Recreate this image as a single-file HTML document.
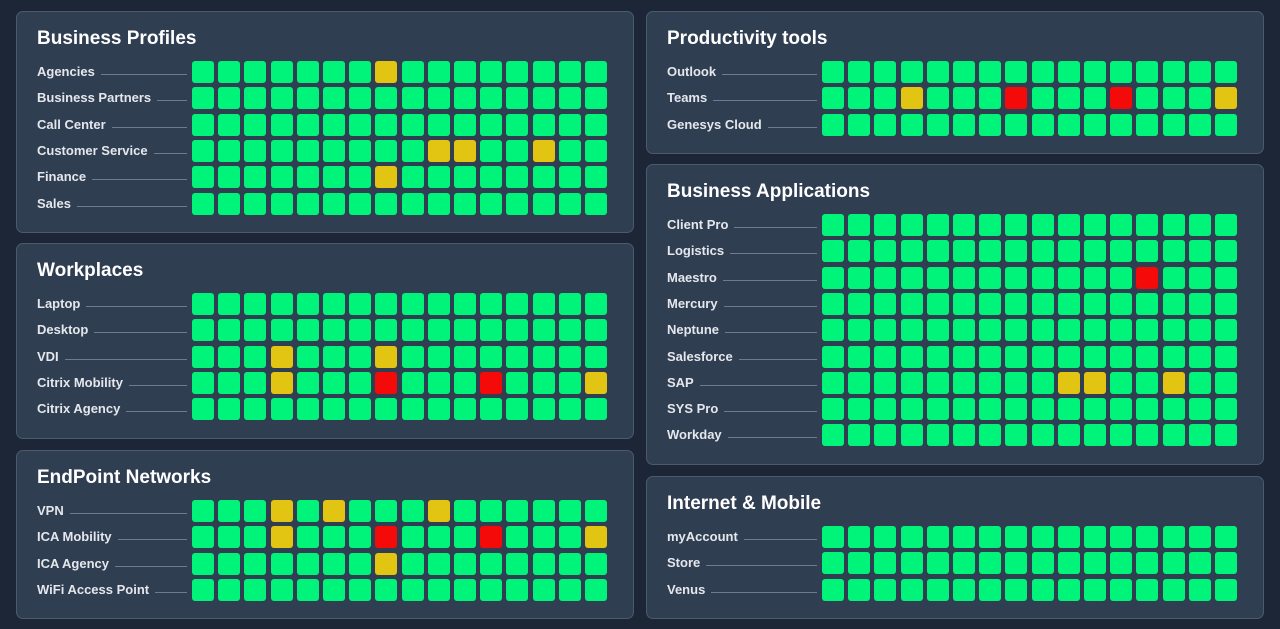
<!DOCTYPE html>
<html><head><meta charset="utf-8">
<style>
body{margin:0;width:1280px;height:629px;background:#1c2636;font-family:"Liberation Sans",sans-serif;overflow:hidden;position:relative}
.panel{position:absolute;width:618px;background:#303e52;border:1px solid #4c5a6e;border-radius:7px;box-sizing:border-box}
.title{position:absolute;left:20px;top:16px;color:#fff;font-weight:bold;font-size:19px}
.label{position:absolute;left:20px;color:#e4e7ec;font-weight:bold;font-size:13px;white-space:nowrap;display:flex;align-items:center}
.line{position:absolute;height:1px;background:#6e7b8e}
.cell{position:absolute;width:22px;height:22px;border-radius:3px}
</style></head><body>
<script>
const panelNames=["Business Profiles","Workplaces","EndPoint Networks","Productivity tools","Business Applications","Internet & Mobile"];
const panelPos=[[16,11],[16,243],[16,450],[646,11],[646,164],[646,476]];
const rowLabels=[
["Agencies","Business Partners","Call Center","Customer Service","Finance","Sales"],
["Laptop","Desktop","VDI","Citrix Mobility","Citrix Agency"],
["VPN","ICA Mobility","ICA Agency","WiFi Access Point"],
["Outlook","Teams","Genesys Cloud"],
["Client Pro","Logistics","Maestro","Mercury","Neptune","Salesforce","SAP","SYS Pro","Workday"],
["myAccount","Store","Venus"]];
const statuses=[
["gggggggygggggggg","gggggggggggggggg","gggggggggggggggg","gggggggggyyggygg","gggggggygggggggg","gggggggggggggggg"],
["gggggggggggggggg","gggggggggggggggg","gggygggygggggggg","gggygggrgggrgggy","gggggggggggggggg"],
["gggygygggygggggg","gggygggrgggrgggy","gggggggygggggggg","gggggggggggggggg"],
["gggggggggggggggg","gggygggrgggrgggy","gggggggggggggggg"],
["gggggggggggggggg","gggggggggggggggg","ggggggggggggrggg","gggggggggggggggg","gggggggggggggggg","gggggggggggggggg","gggggggggyyggygg","gggggggggggggggg","gggggggggggggggg"],
["gggggggggggggggg","gggggggggggggggg","gggggggggggggggg"]];
const colors={g:"#00f47a",y:"#e2c512",r:"#f50a0a"};
panelNames.forEach((name,p)=>{
  const [px,py]=panelPos[p];
  const n=rowLabels[p].length;
  const panel=document.createElement('div');
  panel.className='panel';
  
  
  panel.style.left=px+'px';panel.style.top=py+'px';panel.style.height=(64+26.3*n)+'px';
  const t=document.createElement('div');t.className='title';t.textContent=name;
  
  
  panel.appendChild(t);
  rowLabels[p].forEach((lab,r)=>{
    const cy=60+26.3*r;
    const l=document.createElement('div');l.className='label';l.textContent=lab;
    
    
    l.style.top=(cy-8)+'px';
    panel.appendChild(l);
    const ln=document.createElement('div');ln.className='line';
    
    
    ln.style.top=(cy+2)+'px';
    panel.appendChild(ln);
    requestAnimationFrame(()=>{const w=l.offsetWidth;ln.style.left=(20+w+6)+'px';ln.style.width=(170-(20+w+6))+'px';});
    statuses[p][r].split('').forEach((s,c)=>{
      const d=document.createElement('div');d.className='cell';
      
      
      d.style.left=(175+26.2*c)+'px';d.style.top=(cy-11)+'px';d.style.background=colors[s];
      panel.appendChild(d);
    });
  });
  document.body.appendChild(panel);
});
</script>
</body></html>
